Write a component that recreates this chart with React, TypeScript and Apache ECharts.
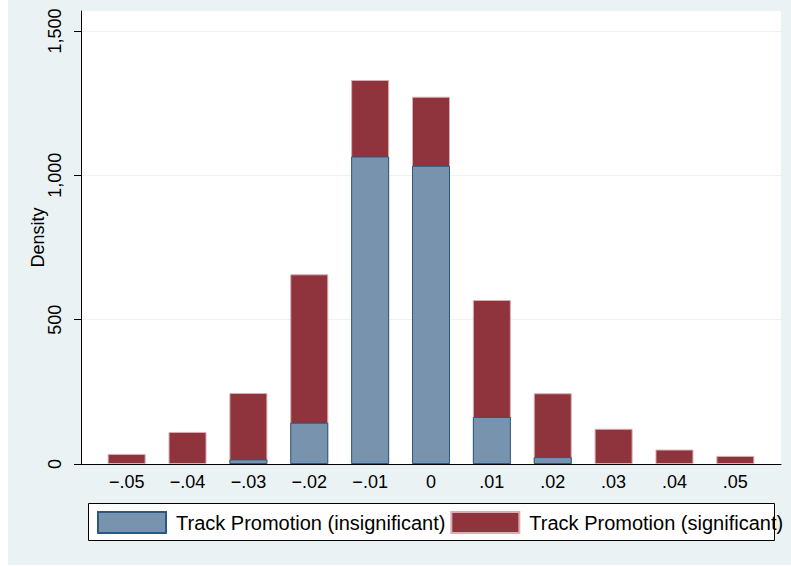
import React, { useEffect, useRef } from "react";
import * as echarts from "echarts";

const binCenters = [-0.05, -0.04, -0.03, -0.02, -0.01, 0, 0.01, 0.02, 0.03, 0.04, 0.05];
const insignificant = [0, 0, 16, 143, 1065, 1033, 163, 24, 0, 0, 0];
const significantTotal = [35, 111, 246, 657, 1330, 1272, 568, 245, 122, 50, 28];
const yTicks = [0, 500, 1000, 1500];
const xTicks = [-0.05, -0.04, -0.03, -0.02, -0.01, 0, 0.01, 0.02, 0.03, 0.04, 0.05];
const seriesNames = ["Track Promotion (insignificant)", "Track Promotion (significant)"];

const fmtX = (v: number) => {
  const r = Math.round(v * 100);
  if (r === 0) return "0";
  const s = "." + String(Math.abs(r)).padStart(2, "0");
  return r < 0 ? "\u2212" + s : s;
};

export default function App() {
  const ref = useRef<HTMLDivElement>(null);
  useEffect(() => {
    if (!ref.current) return;
    const chart = echarts.init(ref.current, null, { renderer: "svg" });
    const font = "'Liberation Sans', Arial, sans-serif";
    chart.setOption({
      animation: false,
      backgroundColor: "#EAF2F3",
      textStyle: { fontFamily: font },
      grid: {
        left: 73,
        right: 10,
        top: 11,
        bottom: 101,
        show: true,
        backgroundColor: "#FFFFFF",
        borderWidth: 0,
      },
      xAxis: {
        type: "value",
        min: -0.0575,
        max: 0.0575,
        axisLine: { show: true, onZero: false, lineStyle: { color: "#000", width: 1 } },
        axisTick: { show: false },
        splitLine: { show: false },
        axisLabel: {
          customValues: xTicks,
          formatter: (v: number) => fmtX(v),
          color: "#000",
          fontSize: 18,
          fontFamily: font,
          margin: 9,
        },
      },
      yAxis: {
        type: "value",
        min: 0,
        max: 1569,
        interval: 500,
        axisLine: { show: true, onZero: false, lineStyle: { color: "#000", width: 1 } },
        axisTick: { show: true, customValues: yTicks, length: 7, lineStyle: { color: "#000" } },
        splitLine: { show: true, lineStyle: { color: "#EAF2F3", width: 1 } },
        axisLabel: {
          customValues: yTicks,
          rotate: 90,
          color: "#000",
          fontSize: 18,
          fontFamily: font,
          margin: 17,
          formatter: (v: number) => v.toLocaleString("en-US"),
        },
        name: "Density",
        nameLocation: "middle",
        nameGap: 34,
        nameMoveOverlap: false,
        nameTextStyle: { color: "#000", fontSize: 18, fontFamily: font },
      },
      legend: {
        left: 89,
        top: 511,
        padding: 0,
        itemWidth: 68,
        itemHeight: 21,
        itemGap: 5,
        icon: "rect",
        z: 10,
        textStyle: { color: "#000", fontSize: 20, fontFamily: font, padding: [0, 0, 0, 5] },
        data: seriesNames,
      },
      graphic: [
        {
          type: "rect",
          z: 0,
          shape: { x: 80.5, y: 503.5, width: 686, height: 37 },
          style: { fill: "#FFFFFF", stroke: "#000000", lineWidth: 1 },
        },
      ],
      series: [
        {
          name: seriesNames[1],
          type: "bar",
          barWidth: 38,
          barGap: "-100%",
          z: 2,
          data: binCenters.map((x, i) => [x, significantTotal[i]]),
          itemStyle: { color: "#8F343C", borderColor: "#D9AEB1", borderWidth: 1 },
        },
        {
          name: seriesNames[0],
          type: "bar",
          barWidth: 38,
          barGap: "-100%",
          z: 3,
          data: binCenters.map((x, i) => [x, insignificant[i] > 0 ? insignificant[i] : null]),
          itemStyle: { color: "#7893AD", borderColor: "#2C5784", borderWidth: 1 },
        },
      ],
    });
    return () => chart.dispose();
  }, []);
  return (
    <div
      ref={ref}
      style={{ position: "absolute", left: 8, top: 0, width: 783, height: 565 }}
    />
  );
}
